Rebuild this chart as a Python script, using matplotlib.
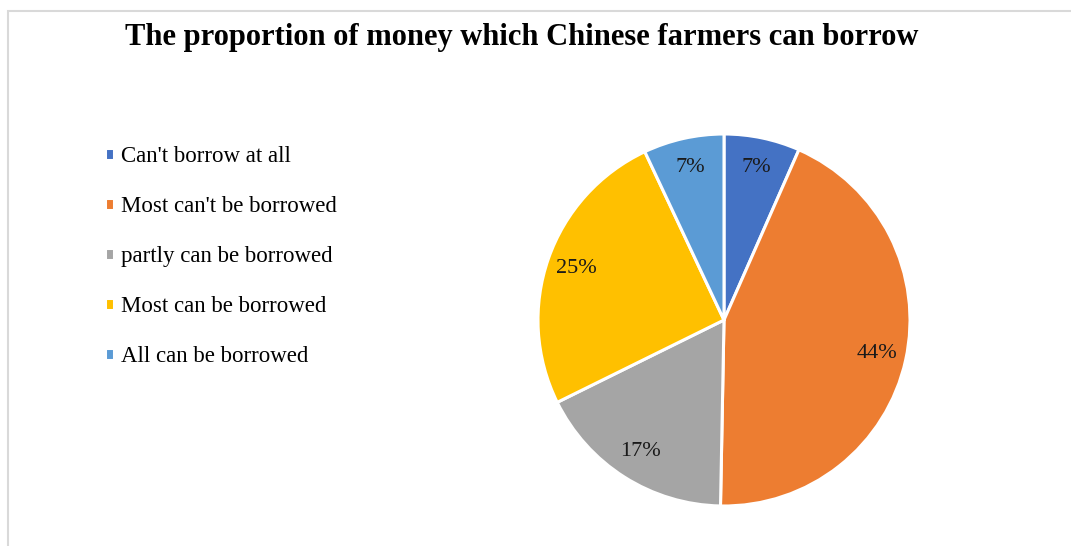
import matplotlib.pyplot as plt
from matplotlib.patches import Rectangle

categories = ["Can't borrow at all", "Most can't be borrowed", "partly can be borrowed",
              "Most can be borrowed", "All can be borrowed"]
shares = [6.6, 43.7, 17.4, 25.3, 7.0]
colors = ['#4472C4', '#ED7D31', '#A5A5A5', '#FFC000', '#5B9BD5']

plt.rcParams['font.family'] = ['Liberation Serif', 'DejaVu Serif']

W, H = 1071, 546
fig = plt.figure(figsize=(W / 100, H / 100), dpi=100)

# light chart-area border (runs off the right and bottom edges)
fig.patches.append(Rectangle((8 / W, -0.1), 1.2, 1 - 11 / H + 0.1, transform=fig.transFigure,
                             fill=False, edgecolor='#d9d9d9', linewidth=1.5))

fig.text(522 / W, 1 - 37 / H, 'The proportion of money which Chinese farmers can borrow',
         ha='center', va='center', fontsize=22, fontweight='bold')

# pie: centre (724, 320), radius 186 px
cx, cy, r = 724, 320, 186
ax = fig.add_axes([(cx - r) / W, (H - cy - r) / H, 2 * r / W, 2 * r / H])
wedges, texts, autotexts = ax.pie(shares, colors=colors, startangle=90, counterclock=False,
                                  autopct='%.0f%%', pctdistance=0.84, radius=1,
                                  wedgeprops=dict(edgecolor='white', linewidth=2.2),
                                  textprops=dict(fontsize=16, color='#1a1a1a'))
ax.set_xlim(-1, 1)
ax.set_ylim(-1, 1)
ax.set_aspect('equal')
ax.axis('off')

fig.legend(wedges, categories, loc='upper left', bbox_to_anchor=(105 / W, 1 - 146 / H),
           frameon=False, fontsize=16.5, handlelength=0.4, handleheight=0.4,
           handletextpad=0.3, labelspacing=1.27, borderpad=0, borderaxespad=0)

fig.savefig('out.png', dpi=100)
